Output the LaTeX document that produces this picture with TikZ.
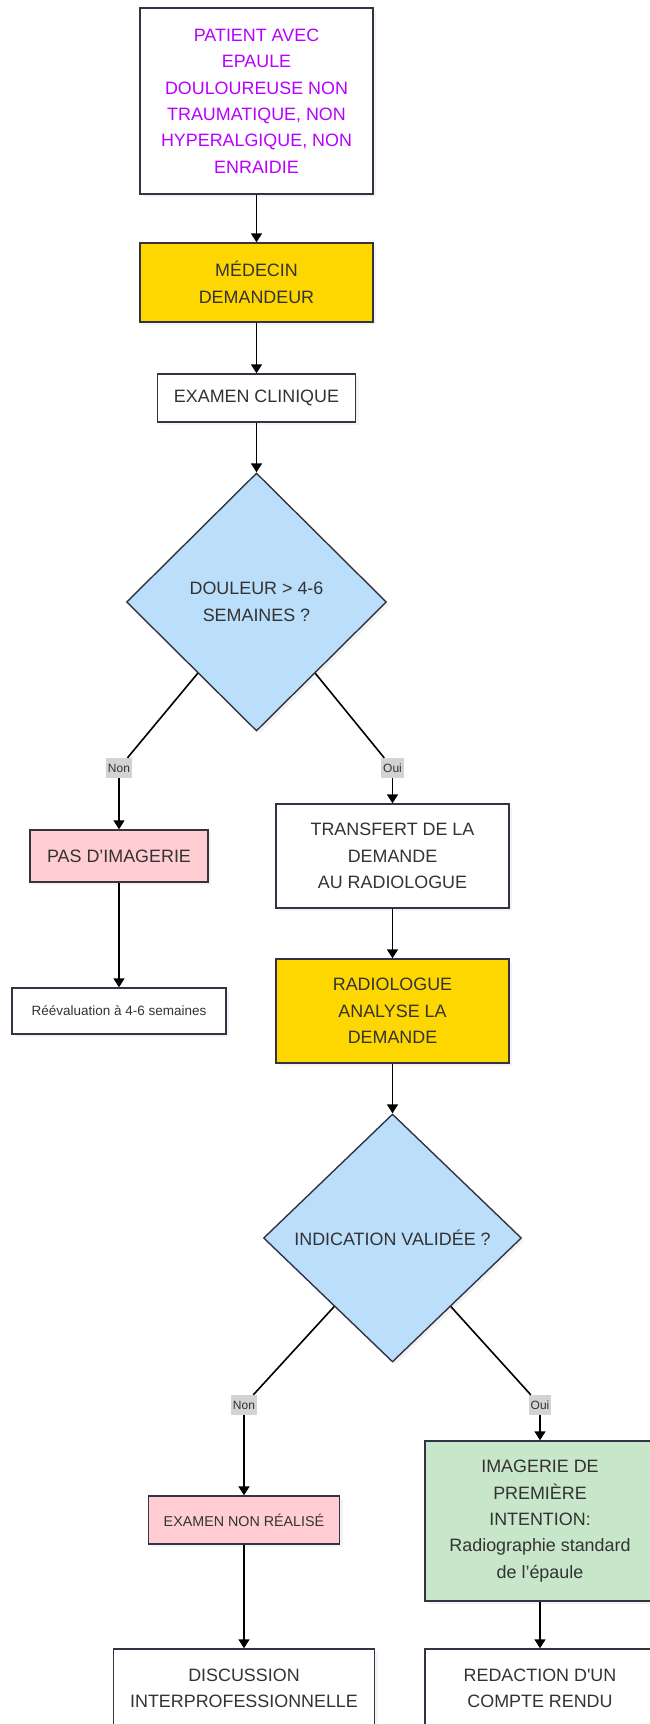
\documentclass[tikz,border=0pt]{standalone}
\usepackage{fontspec}
\setmainfont{Liberation Sans}
\usetikzlibrary{%
    shapes.geometric,%
    arrows.meta,%
    calc,%
    shadows%
}
\definecolor{edgegray}{HTML}{333344}
\definecolor{txtgray}{HTML}{333333}
\definecolor{violet}{HTML}{B800FF}
\definecolor{gold}{HTML}{FFD700}
\definecolor{sky}{HTML}{BBDEFB}
\definecolor{rose}{HTML}{FFCDD2}
\definecolor{mint}{HTML}{C8E6C9}
\definecolor{labelgray}{HTML}{D3D3D3}

\begin{document}
\begin{tikzpicture}[
    x=1pt,y=-1pt,
    every node/.style={text=txtgray,align=center,inner sep=0pt,
        font={\fontsize{17.9}{26.4}\selectfont}},
    box/.style={draw=edgegray,line width=1.4pt,fill=white,
        drop shadow={shadow xshift=3pt,shadow yshift=-3pt,fill=black!8}},
    choice/.style={box,diamond,fill=sky},
    answer/.style={fill=labelgray,inner xsep=2pt,minimum height=20pt,
        font={\fontsize{12}{14}\selectfont}},
    flow/.style={-{Triangle[length=9pt,width=11pt]},line width=1.7pt},
    link/.style={line width=1.6pt},
    ]

    % Page
    \fill[white] (0,0) rectangle (649,1724);
    \useasboundingbox (0,0) rectangle (649,1724);

    % Main column
    \node[box,text=violet,minimum width=233pt,minimum height=186pt] (patient) at (256.5,101)
        {PATIENT AVEC\\EPAULE\\DOULOUREUSE NON\\TRAUMATIQUE, NON\\HYPERALGIQUE, NON\\ENRAIDIE};
    \node[box,fill=gold,minimum width=233pt,minimum height=79pt] (medecin) at (256.5,282.5)
        {MÉDECIN\\DEMANDEUR};
    \node[box,minimum width=198pt,minimum height=48pt] (examen) at (256.5,398)
        {EXAMEN CLINIQUE};
    \node[choice,minimum width=260pt,minimum height=258pt] (douleur) at (256.5,602)
        {DOULEUR > 4-6\\SEMAINES ?};

    \node[answer] (non1) at (119,768) {Non};
    \node[answer] (oui1) at (392.5,768) {Oui};

    % Left branch
    \node[box,fill=rose,minimum width=178pt,minimum height=52pt] (pasimg) at (119,856)
        {PAS D’IMAGERIE};
    \node[box,font={\fontsize{13.5}{16}\selectfont},minimum width=214pt,minimum height=46pt]
        (reeval) at (119,1011) {Réévaluation à 4-6 semaines};

    % Right branch
    \node[box,minimum width=233pt,minimum height=104pt] (transfert) at (392.5,856)
        {TRANSFERT DE LA\\DEMANDE\\AU RADIOLOGUE};
    \node[box,fill=gold,minimum width=233pt,minimum height=104pt] (radiologue) at (392.5,1011)
        {RADIOLOGUE\\ANALYSE LA\\DEMANDE};
    \node[choice,minimum width=258pt,minimum height=248pt] (indication) at (392.5,1238)
        {INDICATION VALIDÉE ?};

    \node[answer] (non2) at (244,1405) {Non};
    \node[answer] (oui2) at (540,1405) {Oui};

    \node[box,fill=rose,font={\fontsize{14.3}{17}\selectfont},minimum width=191pt,minimum height=48pt]
        (nonrealise) at (244,1520) {EXAMEN NON RÉALISÉ};
    \node[box,fill=mint,minimum width=230pt,minimum height=160pt] (premiere) at (540,1521)
        {IMAGERIE DE\\PREMIÈRE\\INTENTION:\\Radiographie standard\\de l’épaule};
    \node[box,minimum width=261pt,minimum height=79pt] (discussion) at (244,1688.5)
        {DISCUSSION\\INTERPROFESSIONNELLE};
    \node[box,minimum width=230pt,minimum height=79pt] (redaction) at (540,1688.5)
        {REDACTION D\textquotesingle UN\\COMPTE RENDU};

    % Exits on the lower edges of the diamonds
    \coordinate (d1l) at ($(douleur.west)!0.55!(douleur.south)$);
    \coordinate (d1r) at ($(douleur.east)!0.55!(douleur.south)$);
    \coordinate (d2l) at ($(indication.west)!0.55!(indication.south)$);
    \coordinate (d2r) at ($(indication.east)!0.55!(indication.south)$);

    % Connectors
    \draw[flow] (patient) -- (medecin);
    \draw[flow] (medecin) -- (examen);
    \draw[flow] (examen) -- (douleur);
    \draw[link] (d1l) -- (non1);
    \draw[link] (d1r) -- (oui1);
    \draw[flow] (non1) -- (pasimg);
    \draw[flow] (oui1) -- (transfert);
    \draw[flow] (pasimg) -- (reeval);
    \draw[flow] (transfert) -- (radiologue);
    \draw[flow] (radiologue) -- (indication);
    \draw[link] (d2l) -- (non2);
    \draw[link] (d2r) -- (oui2);
    \draw[flow] (non2) -- (nonrealise);
    \draw[flow] (oui2) -- (premiere);
    \draw[flow] (nonrealise) -- (discussion);
    \draw[flow] (premiere) -- (redaction);
\end{tikzpicture}
\end{document}
